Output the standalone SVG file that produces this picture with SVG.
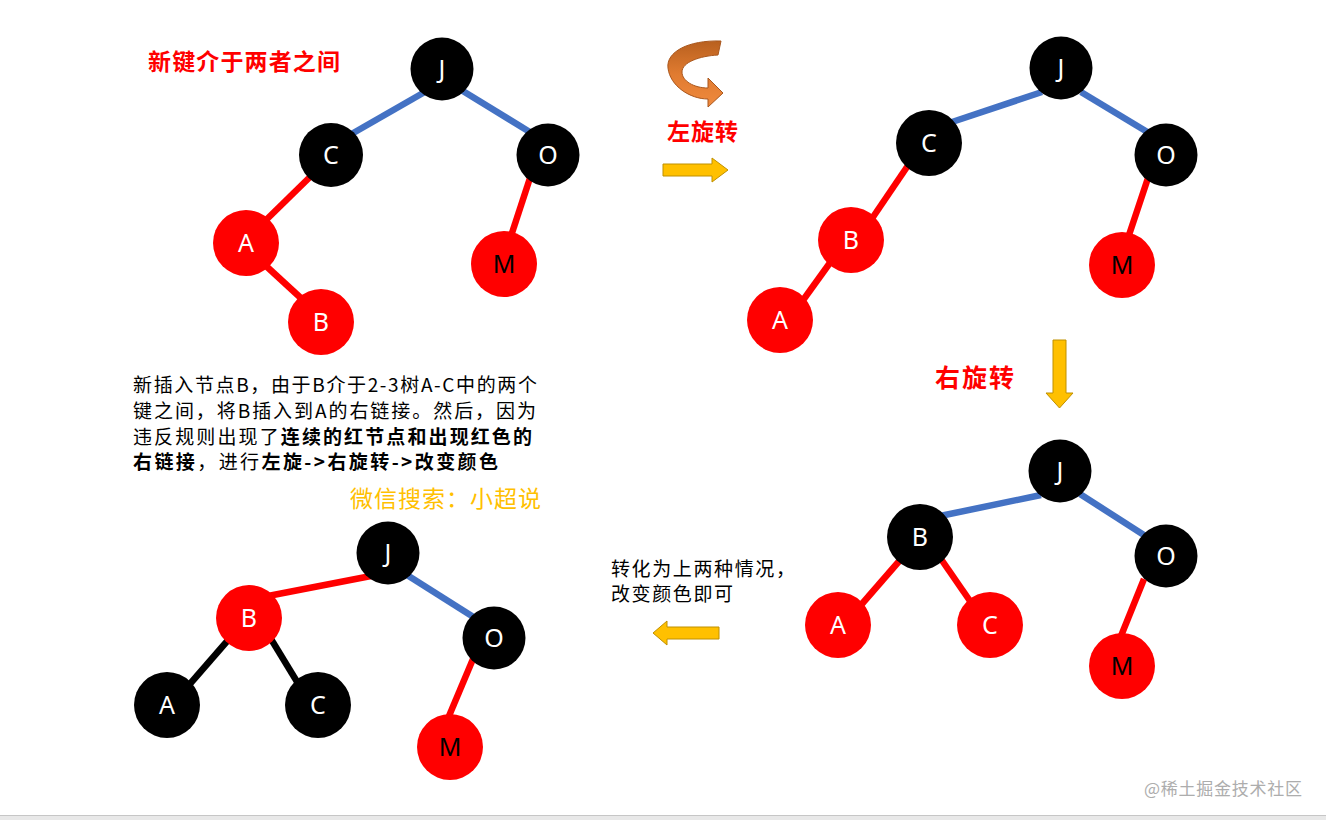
<svg xmlns="http://www.w3.org/2000/svg" width="1326" height="820" viewBox="0 0 1326 820">
<defs>
<style>
.blk{fill:#000}
.red{fill:#FF0000}
.lbl{font-family:"Noto Sans","DejaVu Sans",sans-serif;font-size:25px;fill:#fff;text-anchor:middle}
.lblk{fill:#000}
.eb{stroke:#4472C4;stroke-width:6.5;fill:none}
.er{stroke:#FF0000;stroke-width:6.5;fill:none}
.ek{stroke:#000;stroke-width:6.5;fill:none}
.title{font-family:"Noto Sans CJK SC","Noto Sans",sans-serif;font-weight:bold;fill:#FF0000}
.body{font-family:"Noto Sans CJK SC","Noto Sans",sans-serif;font-size:19px;fill:#000}
.b{font-weight:bold}
.arr{fill:#FFC000;stroke:#BF9000;stroke-width:1}
</style>
<linearGradient id="og" x1="0" y1="0" x2="0" y2="1">
<stop offset="0" stop-color="#B8601F"/>
<stop offset="0.5" stop-color="#E07B30"/>
<stop offset="1" stop-color="#F08A3E"/>
</linearGradient>
</defs>
<rect width="1326" height="820" fill="#fff"/>

<g id="connectors">
<!-- tree 1 -->
<line class="eb" x1="426.5" y1="91" x2="351.5" y2="134"/>
<line class="eb" x1="459.6" y1="89" x2="531.4" y2="133"/>
<line class="er" x1="311" y1="176" x2="265" y2="221"/>
<line class="er" x1="265" y1="265" x2="303" y2="300"/>
<line class="er" x1="530" y1="178" x2="511" y2="236"/>
<!-- tree 2 -->
<line class="eb" x1="949" y1="123" x2="1042" y2="92"/>
<line class="eb" x1="1081" y1="92" x2="1149" y2="133"/>
<line class="er" x1="909" y1="164" x2="871" y2="220"/>
<line class="er" x1="832" y1="260" x2="801" y2="303"/>
<line class="er" x1="1148" y1="178" x2="1128" y2="238"/>
<!-- tree 3 -->
<line class="eb" x1="940" y1="516" x2="1041" y2="495"/>
<line class="eb" x1="1080" y1="494" x2="1147" y2="537"/>
<line class="er" x1="901" y1="559" x2="861" y2="605"/>
<line class="er" x1="941" y1="559" x2="970" y2="601"/>
<line class="er" x1="1144" y1="579" x2="1121" y2="636"/>
<!-- tree 4 -->
<line class="er" x1="268" y1="596" x2="371" y2="576"/>
<line class="eb" x1="407" y1="575" x2="475" y2="618"/>
<line class="ek" x1="229" y1="639" x2="189" y2="685"/>
<line class="ek" x1="271" y1="639" x2="299" y2="685"/>
<line class="er" x1="473" y1="659" x2="449" y2="716"/>
</g>

<!-- tree 1 nodes -->
<g id="t1-J"><circle class="blk" cx="442" cy="69" r="31.5"/><text class="lbl" x="442" y="78">J</text></g>
<g id="t1-C"><circle class="blk" cx="331" cy="155" r="32"/><text class="lbl" x="331" y="164">C</text></g>
<g id="t1-O"><circle class="blk" cx="548" cy="155" r="31.5"/><text class="lbl" x="548" y="164">O</text></g>
<g id="t1-A"><circle class="red" cx="246" cy="243" r="33"/><text class="lbl" x="246" y="252">A</text></g>
<g id="t1-B"><circle class="red" cx="321" cy="322" r="33"/><text class="lbl" x="321" y="331">B</text></g>
<g id="t1-M"><circle class="red" cx="504" cy="264" r="33"/><text class="lbl lblk" x="504" y="273">M</text></g>

<!-- tree 2 nodes -->
<g id="t2-J"><circle class="blk" cx="1061" cy="68" r="31.5"/><text class="lbl" x="1061" y="77">J</text></g>
<g id="t2-C"><circle class="blk" cx="929" cy="143" r="33"/><text class="lbl" x="929" y="152">C</text></g>
<g id="t2-O"><circle class="blk" cx="1166" cy="155" r="31.5"/><text class="lbl" x="1166" y="164">O</text></g>
<g id="t2-B"><circle class="red" cx="851" cy="240" r="33"/><text class="lbl" x="851" y="249">B</text></g>
<g id="t2-A"><circle class="red" cx="780" cy="320" r="33"/><text class="lbl" x="780" y="329">A</text></g>
<g id="t2-M"><circle class="red" cx="1122" cy="265" r="33"/><text class="lbl lblk" x="1122" y="274">M</text></g>

<!-- tree 3 nodes -->
<g id="t3-J"><circle class="blk" cx="1060" cy="471" r="31.5"/><text class="lbl" x="1060" y="480">J</text></g>
<g id="t3-B"><circle class="blk" cx="920" cy="537" r="33"/><text class="lbl" x="920" y="546">B</text></g>
<g id="t3-O"><circle class="blk" cx="1166" cy="556" r="31.5"/><text class="lbl" x="1166" y="565">O</text></g>
<g id="t3-A"><circle class="red" cx="838" cy="625" r="33"/><text class="lbl" x="838" y="634">A</text></g>
<g id="t3-C"><circle class="red" cx="990" cy="625" r="33"/><text class="lbl" x="990" y="634">C</text></g>
<g id="t3-M"><circle class="red" cx="1122" cy="666" r="33"/><text class="lbl lblk" x="1122" y="675">M</text></g>

<!-- tree 4 nodes -->
<g id="t4-J"><circle class="blk" cx="388" cy="553" r="31.5"/><text class="lbl" x="388" y="562">J</text></g>
<g id="t4-B"><circle class="red" cx="249" cy="618" r="33"/><text class="lbl" x="249" y="627">B</text></g>
<g id="t4-O"><circle class="blk" cx="494" cy="638" r="31.5"/><text class="lbl" x="494" y="647">O</text></g>
<g id="t4-A"><circle class="blk" cx="167" cy="705" r="33"/><text class="lbl" x="167" y="714">A</text></g>
<g id="t4-C"><circle class="blk" cx="318" cy="705" r="33"/><text class="lbl" x="318" y="714">C</text></g>
<g id="t4-M"><circle class="red" cx="450" cy="747" r="33"/><text class="lbl lblk" x="450" y="756">M</text></g>

<!-- titles -->
<text class="title" x="148" y="70" font-size="23" textLength="192" lengthAdjust="spacing">新键介于两者之间</text>
<text class="title" x="667" y="140" font-size="23" textLength="71" lengthAdjust="spacing">左旋转</text>
<text class="title" x="935" y="387" font-size="25" textLength="79" lengthAdjust="spacing">右旋转</text>

<!-- rotation icon -->
<path id="rot-icon" d="M 721 41 C 688 40, 666 52, 668 68 C 670 86, 690 99, 708 99 L 708 107 L 723 93 L 708 78 L 708 88 C 694 88, 682 81, 682 72 C 682 62, 700 56, 718 55 Z" fill="url(#og)" stroke="#A9561C" stroke-width="1"/>

<!-- yellow arrows -->
<path id="arrow-right" class="arr" d="M 663 164 L 712 164 L 712 158 L 728 170 L 712 182 L 712 176 L 663 176 Z"/>
<path id="arrow-down" class="arr" d="M 1053 340 L 1066 340 L 1066 393 L 1073 393 L 1059.5 408 L 1046 393 L 1053 393 Z"/>
<path id="arrow-left" class="arr" d="M 719 627 L 667 627 L 667 621 L 653 633 L 667 645 L 667 639 L 719 639 Z"/>

<!-- explanation text -->
<text class="body" x="133" y="392" textLength="404" lengthAdjust="spacing">新插入节点B，由于B介于2-3树A-C中的两个</text>
<text class="body" x="133" y="418" textLength="403" lengthAdjust="spacing">键之间，将B插入到A的右链接。然后，因为</text>
<text class="body" x="133" y="444" textLength="399" lengthAdjust="spacing">违反规则出现了<tspan class="b">连续的红节点和出现红色的</tspan></text>
<text class="body" x="133" y="469" textLength="365" lengthAdjust="spacing"><tspan class="b">右链接</tspan>，进行<tspan class="b">左旋-&gt;右旋转-&gt;改变颜色</tspan></text>

<text x="350" y="507" font-family="Noto Sans CJK SC, sans-serif" font-size="23" fill="#FFC000" textLength="191" lengthAdjust="spacing">微信搜索：小超说</text>

<text class="body" x="611" y="576" textLength="184" lengthAdjust="spacing">转化为上两种情况，</text>
<text class="body" x="611" y="601" textLength="122" lengthAdjust="spacing">改变颜色即可</text>

<!-- watermark -->
<text x="1144" y="795" font-family="Noto Sans CJK SC, sans-serif" font-size="17" fill="#ADADAD" textLength="158" lengthAdjust="spacing">@稀土掘金技术社区</text>

<!-- bottom bar -->
<rect x="0" y="815" width="1326" height="5" fill="#E8E8E8"/>
<line x1="0" y1="815.5" x2="1326" y2="815.5" stroke="#C6C6C6" stroke-width="1"/>
</svg>
